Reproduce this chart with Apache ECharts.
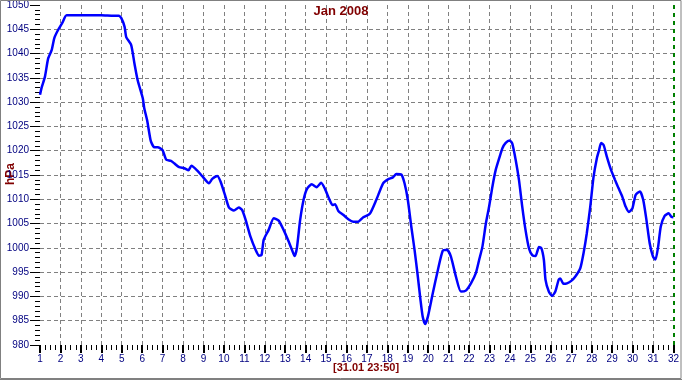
<!DOCTYPE html>
<html>
<head>
<meta charset="utf-8">
<script src="https://cdn.jsdelivr.net/npm/echarts@6/dist/echarts.min.js"></script>
<style>
html,body{margin:0;padding:0;background:#fff;}
#chart{width:682px;height:380px;}
</style>
</head>
<body>
<div id="chart"></div>
<script>
// Time in days of January 2008 (1 = Jan 1 00:00, 32 = Feb 1 00:00)
const days = [1.00,1.08,1.24,1.40,1.57,1.70,1.89,2.09,2.30,3.00,4.00,4.60,4.85,4.98,5.14,5.22,5.46,5.62,5.78,6.03,6.10,6.24,6.35,6.43,6.60,6.76,7.00,7.17,7.41,7.57,7.81,8.06,8.27,8.41,8.70,8.95,9.27,9.43,9.68,9.84,10.08,10.25,10.49,10.73,10.89,11.06,11.30,11.55,11.71,11.84,11.95,12.19,12.44,12.68,12.92,13.17,13.33,13.46,13.57,13.73,13.90,14.06,14.30,14.54,14.76,14.95,15.16,15.32,15.44,15.60,15.84,16.09,16.33,16.57,16.82,17.14,17.46,17.79,18.03,18.27,18.44,18.68,18.84,19.00,19.17,19.33,19.49,19.62,19.73,19.85,19.98,20.22,20.47,20.71,20.92,21.11,21.36,21.60,21.84,22.09,22.33,22.49,22.65,22.82,22.98,23.14,23.30,23.47,23.63,23.79,23.98,24.11,24.28,24.44,24.60,24.76,24.93,25.09,25.25,25.42,25.54,25.66,25.74,25.90,26.06,26.22,26.38,26.46,26.62,26.79,27.00,27.20,27.44,27.60,27.76,27.93,28.09,28.25,28.36,28.46,28.58,28.74,28.95,29.14,29.31,29.50,29.66,29.82,29.99,30.15,30.36,30.52,30.68,30.84,31.00,31.12,31.25,31.38,31.57,31.77,31.90,32.00];
// Air pressure in hPa
const pressure = [1031.5,1033.0,1035.2,1039.0,1040.7,1043.2,1044.9,1046.3,1047.9,1047.9,1047.9,1047.8,1047.8,1047.3,1045.5,1043.4,1041.8,1038.0,1034.5,1030.8,1028.8,1026.3,1023.6,1021.9,1020.7,1020.7,1020.1,1018.2,1017.9,1017.4,1016.6,1016.4,1016.0,1016.9,1015.9,1014.7,1013.3,1014.2,1014.8,1013.6,1010.5,1008.3,1007.7,1008.3,1007.8,1005.8,1002.3,999.6,998.4,998.5,1001.7,1003.7,1006.1,1005.6,1003.7,1001.3,999.6,998.3,999.9,1005.7,1009.9,1012.1,1013.1,1012.5,1013.4,1012.1,1010.0,1008.8,1009.0,1007.6,1006.8,1005.9,1005.4,1005.4,1006.3,1007.0,1009.9,1013.3,1014.1,1014.5,1015.2,1015.1,1013.3,1009.9,1004.4,999.6,994.1,989.3,985.8,984.3,985.8,990.6,995.4,999.4,999.6,998.2,994.0,991.0,991.2,992.7,994.8,997.5,1000.2,1005.0,1008.5,1012.6,1016.0,1018.4,1020.5,1021.6,1022.1,1021.5,1018.1,1014.0,1008.5,1003.7,999.9,998.5,998.3,1000.2,999.9,997.5,993.4,991.0,990.1,991.0,993.4,993.7,992.6,992.7,993.2,994.1,995.8,998.9,1003.0,1008.5,1014.6,1018.4,1020.1,1021.6,1021.2,1018.8,1016.0,1014.0,1012.3,1010.5,1008.5,1007.4,1008.1,1010.9,1011.6,1009.9,1005.7,1000.9,998.2,997.6,1000.2,1004.4,1006.6,1007.1,1006.4,1006.3];
const xRange = [1, 32];
const yRange = [980, 1050];
const titleText = 'Jan 2008';
const yName = 'hPa';
const xName = '[31.01 23:50]';
const nowMarker = 32;

const seriesData = days.map((d, i) => [d, pressure[i]]);
const chart = echarts.init(document.getElementById('chart'), null, {renderer: 'canvas'});
const labelFont = {color: '#000080', fontSize: 10, fontFamily: 'Liberation Sans, Arial, sans-serif', formatter: v => String(v)};
const nameFont = {fill: '#800000', fontWeight: 'bold', fontFamily: 'Liberation Sans, Arial, sans-serif'};

chart.setOption({
  animation: false,
  backgroundColor: '#ffffff',
  title: {
    text: titleText, left: 'center', top: 5, padding: 0,
    textStyle: {color: '#800000', fontSize: 13, fontWeight: 'bold', fontFamily: 'Liberation Sans, Arial, sans-serif'}
  },
  grid: {left: 40, right: 5, top: 5, bottom: 35, containLabel: false},
  xAxis: {
    type: 'value', min: xRange[0], max: xRange[1], interval: 1,
    axisLine: {show: false},
    axisTick: {show: true, length: 8, lineStyle: {color: '#000', width: 2}},
    minorTick: {show: true, splitNumber: 4, length: 5, lineStyle: {color: '#000', width: 1}},
    axisLabel: Object.assign({margin: 9}, labelFont),
    splitLine: {show: true, showMinLine: false, showMaxLine: false, lineStyle: {color: '#808080', type: [4, 3], width: 1}},
    minorSplitLine: {show: false}
  },
  yAxis: {
    type: 'value', min: yRange[0], max: yRange[1], interval: 5,
    axisLine: {show: false},
    axisTick: {show: true, length: 10, lineStyle: {color: '#000', width: 1}},
    minorTick: {show: true, splitNumber: 5, length: 5, lineStyle: {color: '#000', width: 1}},
    axisLabel: Object.assign({margin: 11}, labelFont),
    splitLine: {show: true, showMinLine: false, showMaxLine: false, lineStyle: {color: '#808080', type: [4, 3], width: 1}}
  },
  graphic: [
    {type: 'text', left: 5, top: 163, rotation: Math.PI / 2,
      style: Object.assign({text: yName, fontSize: 12}, nameFont)},
    {type: 'text', left: 333, top: 362,
      style: Object.assign({text: xName, fontSize: 11}, nameFont)},
    {type: 'rect', silent: true, z: 100,
      shape: {x: 0.5, y: 0.5, width: 680.5, height: 378},
      style: {fill: 'none', stroke: '#808080', lineWidth: 1}},
    {type: 'line', silent: true, z: 100,
      shape: {x1: 0, y1: 379.5, x2: 682, y2: 379.5},
      style: {stroke: '#808080', lineWidth: 1}}
  ],
  series: [{
    type: 'line',
    data: seriesData,
    showSymbol: false,
    smooth: 0.2,
    lineStyle: {color: '#0000ff', width: 2.5},
    markLine: {
      silent: true, symbol: 'none', label: {show: false},
      lineStyle: {color: '#008000', type: [4, 4], width: 2},
      data: [{xAxis: nowMarker}]
    }
  }]
});
</script>
</body>
</html>
